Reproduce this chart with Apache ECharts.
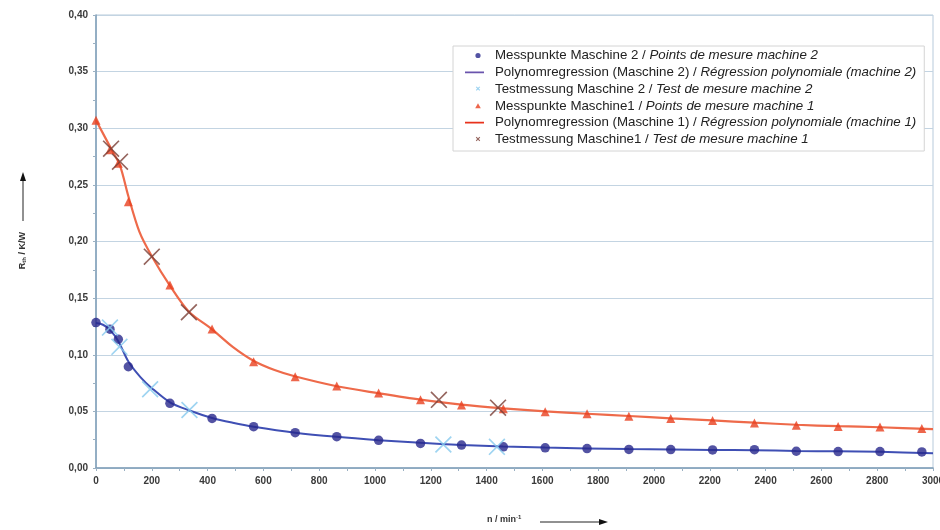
<!DOCTYPE html>
<html>
<head>
<meta charset="utf-8">
<script src="https://cdn.jsdelivr.net/npm/echarts@6/dist/echarts.min.js"></script>
<style>html,body{margin:0;padding:0;background:#fff}#c{width:940px;height:530px}</style>
</head>
<body>
<div id="c"></div>
<script>
// ---- data ----
const measX = [0, 50, 80, 116, 265, 416, 565, 714, 863, 1013, 1163, 1310, 1460, 1610, 1760, 1910, 2060, 2210, 2360, 2510, 2660, 2810, 2960];
const meas2Y = [0.1284, 0.1226, 0.1137, 0.0894, 0.0571, 0.0438, 0.0365, 0.0312, 0.0277, 0.0244, 0.0217, 0.0202, 0.0187, 0.0178, 0.0172, 0.0164, 0.0163, 0.0160, 0.0162, 0.0148, 0.0145, 0.0145, 0.0142];
const meas1Y = [0.307, 0.281, 0.269, 0.235, 0.1616, 0.1227, 0.0939, 0.0806, 0.0723, 0.0663, 0.0602, 0.0557, 0.0524, 0.0497, 0.0479, 0.0458, 0.0437, 0.0419, 0.0398, 0.0377, 0.0367, 0.0361, 0.0349];

const test2X = [50, 84, 194, 335, 1245, 1437];
const test2Y = [0.124, 0.107, 0.0695, 0.0512, 0.0208, 0.0187];
const test1X = [54, 86, 200, 333, 1229, 1441];
const test1Y = [0.282, 0.2705, 0.1866, 0.1375, 0.0602, 0.0533];

const reg2X = [0, 25, 50, 80, 116, 160, 200, 265, 335, 416, 490, 565, 714, 863, 1013, 1163, 1310, 1460, 1610, 1760, 1910, 2060, 2210, 2360, 2510, 2660, 2810, 3000];
const reg2Y = [0.128, 0.1265, 0.122, 0.112, 0.094, 0.080, 0.0705, 0.058, 0.0508, 0.0442, 0.0400, 0.0365, 0.0312, 0.0275, 0.0246, 0.0222, 0.0204, 0.0190, 0.0180, 0.0173, 0.0167, 0.0163, 0.0160, 0.0157, 0.0151, 0.0147, 0.0143, 0.0130];
const reg1X = [0, 54, 86, 116, 155, 200, 265, 333, 416, 490, 566, 640, 712, 863, 1013, 1163, 1310, 1460, 1610, 1760, 1910, 2060, 2210, 2360, 2510, 2660, 2810, 3000];
const reg1Y = [0.307, 0.282, 0.267, 0.240, 0.209, 0.187, 0.161, 0.138, 0.1225, 0.107, 0.0945, 0.0865, 0.0810, 0.0722, 0.0660, 0.0603, 0.0560, 0.0527, 0.0500, 0.0479, 0.0459, 0.0439, 0.0420, 0.0400, 0.0382, 0.0369, 0.0360, 0.0343];

const legendNames = [
  ['Messpunkte Maschine 2 / ', 'Points de mesure machine 2'],
  ['Polynomregression (Maschine 2) / ', 'Régression polynomiale (machine 2)'],
  ['Testmessung Maschine 2 / ', 'Test de mesure machine 2'],
  ['Messpunkte Maschine1 / ', 'Points de mesure machine 1'],
  ['Polynomregression (Maschine 1) / ', 'Régression polynomiale (machine 1)'],
  ['Testmessung Maschine1 / ', 'Test de mesure machine 1']
];
const names = legendNames.map(p => p[0] + p[1]);

const zip = (xs, ys) => xs.map((x, i) => [x, ys[i]]);
const cross = 'path://M0,0.7L0.7,0L5,4.3L9.3,0L10,0.7L5.7,5L10,9.3L9.3,10L5,5.7L0.7,10L0,9.3L4.3,5Z';
// legend icons inside a 19x7 box (tiny corner specks keep the box size)
const box = 'M0,0L0.05,0L0,0.05Z M19,7L18.95,7L19,6.95Z ';
const iconDot = 'path://' + box + 'M15.6,3.5A2.6,2.6 0 1 1 10.4,3.5A2.6,2.6 0 1 1 15.6,3.5Z';
const iconLine = 'path://' + box + 'M0,2.6L19,2.6L19,4.4L0,4.4Z';
const iconTri = 'path://' + box + 'M13,0.8L15.8,5.8L10.2,5.8Z';
const iconCross = 'path://' + box + 'M10.8,1.6L11.6,0.8L13,2.2L14.4,0.8L15.2,1.6L13.8,3L15.2,4.4L14.4,5.2L13,3.8L11.6,5.2L10.8,4.4L12.2,3Z';

const chart = echarts.init(document.getElementById('c'), null, {renderer: 'canvas'});
const font = '"Liberation Sans", Arial, sans-serif';

chart.setOption({
  animation: false,
  backgroundColor: '#fff',
  textStyle: {fontFamily: font},
  grid: {left: 96, right: 7, top: 15, bottom: 62, containLabel: false, outerBoundsMode: 'none',
    show: true, borderColor: '#b7cadb', borderWidth: 1},
  legend: {
    orient: 'vertical', left: 453, top: 46,
    backgroundColor: '#fff', borderColor: '#d4d4d4', borderWidth: 1,
    padding: [3, 8, 5, 12],
    itemWidth: 19, itemHeight: 7, itemGap: 3.8,
    symbolKeepAspect: true,
    data: [
      {name: names[0], icon: iconDot},
      {name: names[1], icon: iconLine},
      {name: names[2], icon: iconCross},
      {name: names[3], icon: iconTri},
      {name: names[4], icon: iconLine},
      {name: names[5], icon: iconCross}
    ],
    formatter: n => {
      const i = names.indexOf(n);
      return '{a|' + legendNames[i][0] + '}{b|' + legendNames[i][1] + '}';
    },
    textStyle: {
      fontFamily: font, fontSize: 13.3, color: '#222',
      rich: {
        a: {fontFamily: font, fontSize: 13.3, color: '#222', padding: [0, 0, 0, 6], lineHeight: 15},
        b: {fontFamily: font, fontSize: 13.3, color: '#222', fontStyle: 'italic', lineHeight: 15}
      }
    }
  },
  xAxis: {
    type: 'value', min: 0, max: 3000, interval: 200,
    axisLine: {show: true, onZero: false, lineStyle: {color: '#7d9cb6', width: 1.5}},
    axisTick: {show: true, length: 3, lineStyle: {color: '#9ab0c2'}},
    minorTick: {show: true, splitNumber: 2, length: 3, lineStyle: {color: '#9ab0c2'}},
    splitLine: {show: false},
    axisLabel: {margin: 8, fontSize: 10, color: '#3a3a3a', fontWeight: 'bold', fontFamily: font,
      formatter: v => String(v)}
  },
  yAxis: {
    type: 'value', min: 0, max: 0.4, interval: 0.05,
    axisLine: {show: true, lineStyle: {color: '#7d9cb6', width: 1.5}},
    axisTick: {show: true, length: 3, lineStyle: {color: '#9ab0c2'}},
    minorTick: {show: true, splitNumber: 2, length: 3, lineStyle: {color: '#9ab0c2'}},
    splitLine: {show: true, lineStyle: {color: '#c3d4e2', width: 1.2}},
    axisLabel: {margin: 8, fontSize: 10, color: '#3a3a3a', fontWeight: 'bold', fontFamily: font,
      formatter: v => v.toFixed(2).replace('.', ',')}
  },
  graphic: [
    {type: 'text', left: 18, top: 232, rotation: Math.PI / 2, silent: true,
      style: {
        text: '{r|R}{s|th}{r| / K/W}',
        rich: {
          r: {fontSize: 9, fontWeight: 'bold', fill: '#333', fontFamily: font},
          s: {fontSize: 6, fontWeight: 'bold', fill: '#333', fontFamily: font, verticalAlign: 'bottom', padding: [3, 0, 0, 0]}
        }
      }
    },
    {type: 'line', silent: true, shape: {x1: 23, y1: 221, x2: 23, y2: 180}, style: {stroke: '#222', lineWidth: 1}},
    {type: 'polygon', silent: true, shape: {points: [[23, 172], [20, 181], [26, 181]]}, style: {fill: '#111'}},
    {type: 'text', left: 487, top: 514, silent: true,
      style: {
        text: '{r|n / min}{s|-1}',
        rich: {
          r: {fontSize: 9, fontWeight: 'bold', fill: '#333', fontFamily: font},
          s: {fontSize: 6, fontWeight: 'bold', fill: '#333', fontFamily: font, padding: [0, 0, 5, 0]}
        }
      }
    },
    {type: 'line', silent: true, shape: {x1: 540, y1: 522, x2: 600, y2: 522}, style: {stroke: '#222', lineWidth: 1}},
    {type: 'polygon', silent: true, shape: {points: [[608, 522], [599, 519], [599, 525]]}, style: {fill: '#111'}}
  ],
  series: [
    {name: names[1], type: 'line', data: zip(reg2X, reg2Y), smooth: 0.3, symbol: 'none',
      lineStyle: {color: '#3f4fb4', width: 2}, itemStyle: {color: '#6a54ad'}, z: 2},
    {name: names[4], type: 'line', data: zip(reg1X, reg1Y), smooth: 0.3, symbol: 'none',
      lineStyle: {color: '#ee6a4a', width: 2.2}, itemStyle: {color: '#e8321c'}, z: 2},
    {name: names[0], type: 'scatter', data: zip(measX, meas2Y), symbol: 'circle', symbolSize: 9.5,
      itemStyle: {color: '#28288c'}, z: 3},
    {name: names[3], type: 'scatter', data: zip(measX, meas1Y), symbol: 'triangle', symbolSize: 9,
      itemStyle: {color: '#e8401f'}, z: 3},
    {name: names[2], type: 'scatter', data: zip(test2X, test2Y), symbol: cross, symbolSize: 17,
      itemStyle: {color: '#86c9ee'}, z: 4},
    {name: names[5], type: 'scatter', data: zip(test1X, test1Y), symbol: cross, symbolSize: 17,
      itemStyle: {color: '#7a3f36'}, z: 4}
  ]
});
</script>
</body>
</html>
